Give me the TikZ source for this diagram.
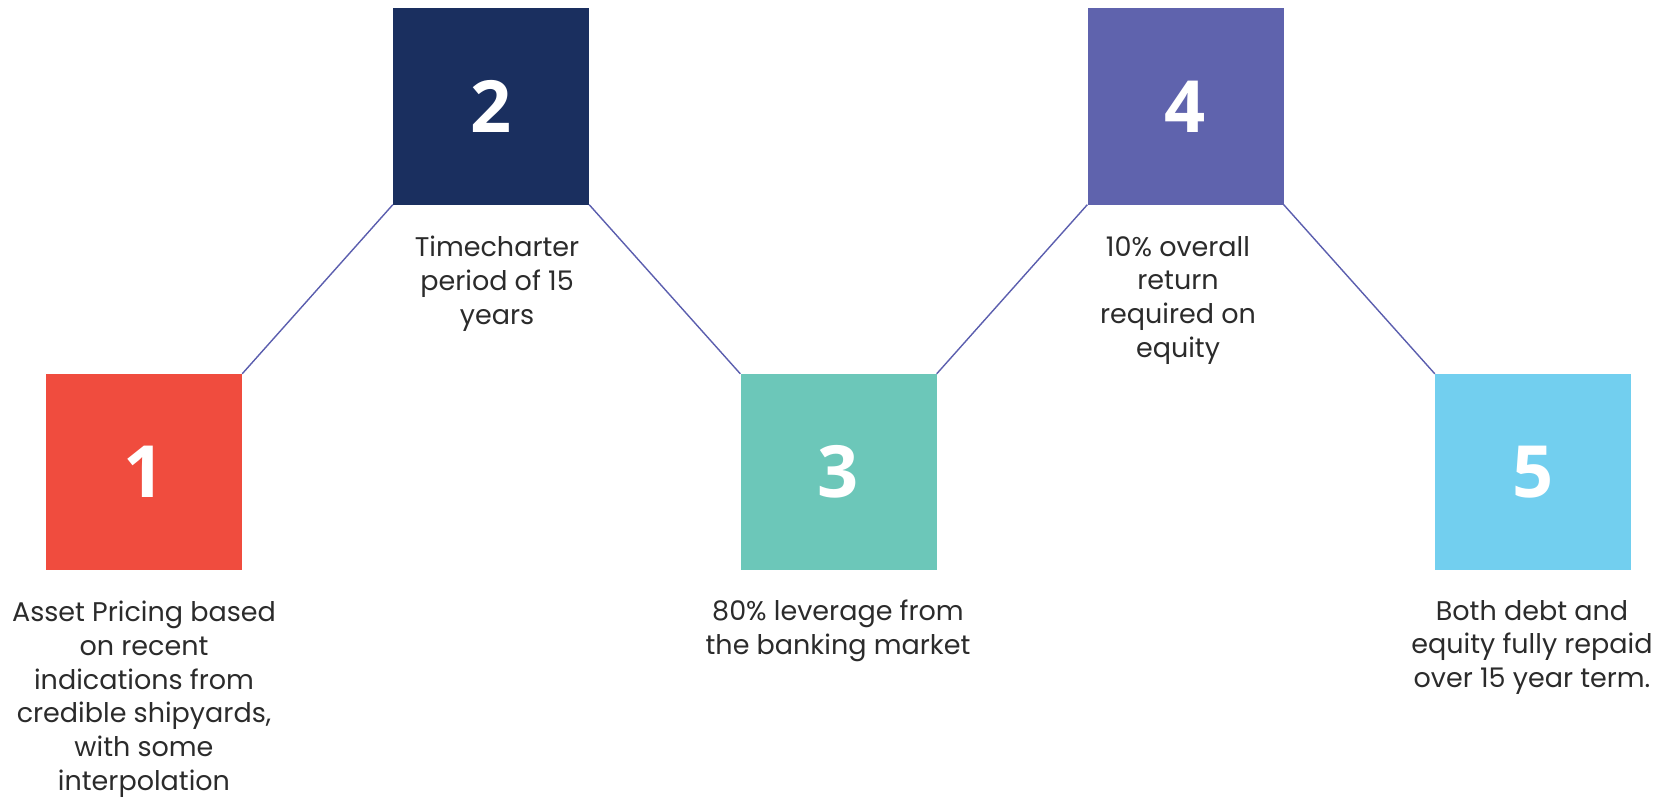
\documentclass[tikz,border=0pt]{standalone}
\usepackage{fontspec}
\setmainfont{Poppins}
\newfontfamily\numfont{Open Sans}
\usetikzlibrary{positioning}

\definecolor{stepred}{HTML}{F04C3E}
\definecolor{stepnavy}{HTML}{1A2F5F}
\definecolor{stepteal}{HTML}{6CC7B9}
\definecolor{steppurple}{HTML}{5F63AD}
\definecolor{stepsky}{HTML}{72CFEF}
\definecolor{linkline}{HTML}{5B5EAE}
\definecolor{bodytext}{HTML}{2B2B2B}

\tikzset{
    numbox/.style={minimum width=196pt, minimum height=196pt, inner sep=0pt,
        text=white, font=\numfont\bfseries\fontsize{72}{72}\selectfont},
    desc/.style={anchor=north, inner sep=0pt, align=center, text=bodytext,
        font=\fontsize{27}{33.7}\selectfont},
    link/.style={linkline, line width=1.4pt}
}

\begin{document}
\begin{tikzpicture}[x=1pt, y=-1pt]
        \useasboundingbox (0,0) rectangle (1664,800);

        % 四角の描画
        \foreach \n/\x/\y/\col in {1/144/472/stepred, 2/491/106.5/stepnavy, 3/838.5/472/stepteal, 4/1185.5/106.5/steppurple, 5/1533/472/stepsky}
            \node[numbox, fill=\col] (b\n) at (\x,\y) {\n};

        % 線の描画
        \draw[link] (b1.north east) -- (b2.south west);
        \draw[link] (b2.south east) -- (b3.north west);
        \draw[link] (b3.north east) -- (b4.south west);
        \draw[link] (b4.south east) -- (b5.north west);

        % 説明文
        \node[desc] (t1) at (144,601) {Asset Pricing based\\on recent\\indications from\\credible shipyards,\\with some\\interpolation};
        \node[desc] (t2) at (497,236) {Timecharter\\period of 15\\years};
        \node[desc] (t3) at (838,600) {80\% leverage from\\the banking market};
        \node[desc] (t4) at (1178,236) {10\% overall\\return\\required on\\equity};
        \node[desc] (t5) at (1532,600) {Both debt and\\equity fully repaid\\over 15 year term.};

    \end{tikzpicture}
\end{document}
